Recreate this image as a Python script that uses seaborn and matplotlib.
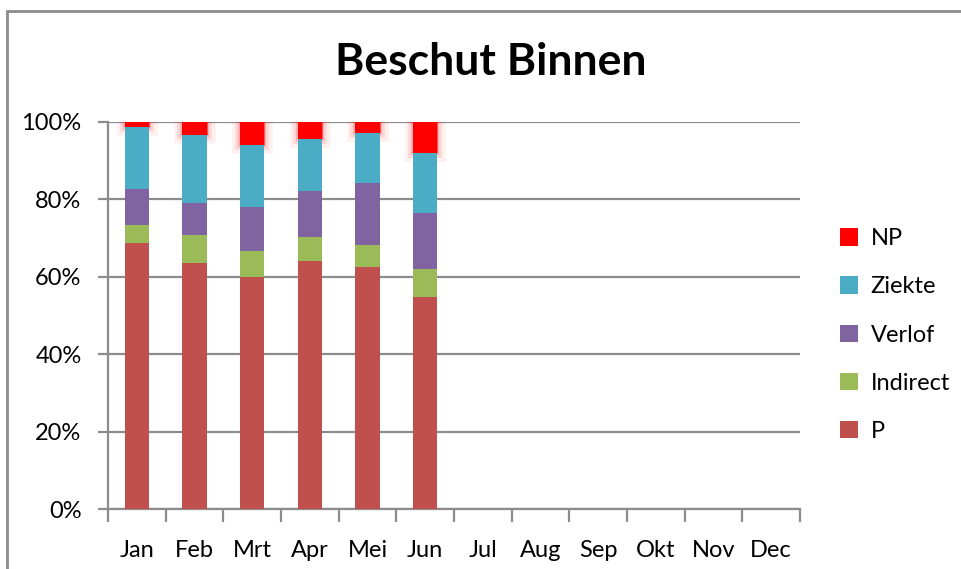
import numpy as np
import pandas as pd
import matplotlib
matplotlib.use("Agg")
import matplotlib.pyplot as plt
import matplotlib.patheffects as pe
from matplotlib.patches import Patch
import seaborn as sns

months = ["Jan", "Feb", "Mrt", "Apr", "Mei", "Jun", "Jul", "Aug", "Sep", "Okt", "Nov", "Dec"]
data_months = ["Jan", "Feb", "Mrt", "Apr", "Mei", "Jun"]
P = [68.8, 63.6, 59.9, 64.1, 62.5, 54.9]
Indirect = [4.6, 7.2, 6.8, 6.2, 5.7, 7.1]
Verlof = [9.2, 8.2, 11.3, 11.8, 16.0, 14.4]
Ziekte = [16.1, 17.6, 16.0, 13.4, 12.9, 15.5]
NP = [1.3, 3.4, 6.0, 4.5, 2.9, 8.1]

series_names = ["P", "Indirect", "Verlof", "Ziekte", "NP"]
series_vals = [P, Indirect, Verlof, Ziekte, NP]
colors = {"P": "#C0504D", "Indirect": "#9BBB59", "Verlof": "#8064A2",
          "Ziekte": "#4BACC6", "NP": "#FF0000"}

df = pd.DataFrame({"month": data_months})
for n, v in zip(series_names, series_vals):
    df[n] = v
tot = df[series_names].sum(axis=1)
for n in series_names:
    df[n] = df[n] / tot * 100

sns.set_style("white")
plt.rcParams["font.family"] = ["Lato", "DejaVu Sans"]
plt.rcParams["text.color"] = "black"
plt.rcParams["xtick.labelcolor"] = "black"
plt.rcParams["ytick.labelcolor"] = "black"

fig = plt.figure(figsize=(9.61, 5.69), dpi=100)
ax = fig.add_axes([108 / 961, 1 - 509 / 569, 692 / 961, 387 / 569])

bottom = np.zeros(len(df))
for n in series_names:
    kw = {}
    z = 3
    if n == "NP":
        kw["path_effects"] = [pe.Stroke(linewidth=12, foreground=(1, 0, 0, 0.06)),
                              pe.Stroke(linewidth=7, foreground=(1, 0, 0, 0.10)),
                              pe.Stroke(linewidth=3, foreground=(1, 0, 0, 0.18)),
                              pe.Normal()]
        z = 2
    sns.barplot(data=df, x="month", y=n, order=months, color=colors[n],
                saturation=1, width=0.42, bottom=bottom.copy(), ax=ax,
                linewidth=0, zorder=z, **kw)
    bottom = bottom + df[n].values

ax.set_xlim(-0.5, 11.5)
ax.set_ylim(0, 100)
ax.set_xlabel("")
ax.set_ylabel("")
ax.set_yticks([0, 20, 40, 60, 80, 100])
ax.set_yticklabels(["0%", "20%", "40%", "60%", "80%", "100%"])
ax.yaxis.grid(True, color="#8C8C8C", linewidth=1.6, zorder=0)
ax.set_axisbelow(True)

for s in ["top", "right"]:
    ax.spines[s].set_visible(False)
for s in ["left", "bottom"]:
    ax.spines[s].set_color("#8C8C8C")
    ax.spines[s].set_linewidth(1.6)

ax.set_xticks(range(12))
ax.set_xticks(np.arange(-0.5, 12, 1), minor=True)
ax.tick_params(axis="x", which="major", length=0, pad=22, labelsize=17, labelcolor="black")
ax.tick_params(axis="x", which="minor", length=9, width=1.6, color="#8C8C8C", direction="out")
ax.tick_params(axis="y", which="major", length=7, width=1.6, color="#8C8C8C",
               direction="out", labelsize=17, pad=12, labelcolor="black")
ax.tick_params(left=True, bottom=True)
ax.tick_params(axis="x", which="minor", bottom=True)

legend_order = ["NP", "Ziekte", "Verlof", "Indirect", "P"]
handles = [Patch(facecolor=colors[n], edgecolor="none", label=n) for n in legend_order]
leg = ax.legend(handles=handles, loc="center left", bbox_to_anchor=(840 / 961, 1 - 335 / 569),
                bbox_transform=fig.transFigure, frameon=False, fontsize=17,
                handlelength=0.75, handleheight=0.75, handletextpad=0.55, labelspacing=1.15,
                borderaxespad=0, borderpad=0, labelcolor="black")

fig.text(491 / 961, 1 - 62 / 569, "Beschut Binnen", ha="center", va="center",
         fontsize=32, fontweight="bold", color="black")

# outer chart frame (left and top edges visible)
fig.add_artist(plt.Line2D([7 / 961, 7 / 961], [0, 1 - 11 / 569], transform=fig.transFigure,
                          color="#8C8C8C", linewidth=2))
fig.add_artist(plt.Line2D([7 / 961, 1], [1 - 11 / 569, 1 - 11 / 569], transform=fig.transFigure,
                          color="#8C8C8C", linewidth=2))

fig.savefig("out.png", dpi=100)
